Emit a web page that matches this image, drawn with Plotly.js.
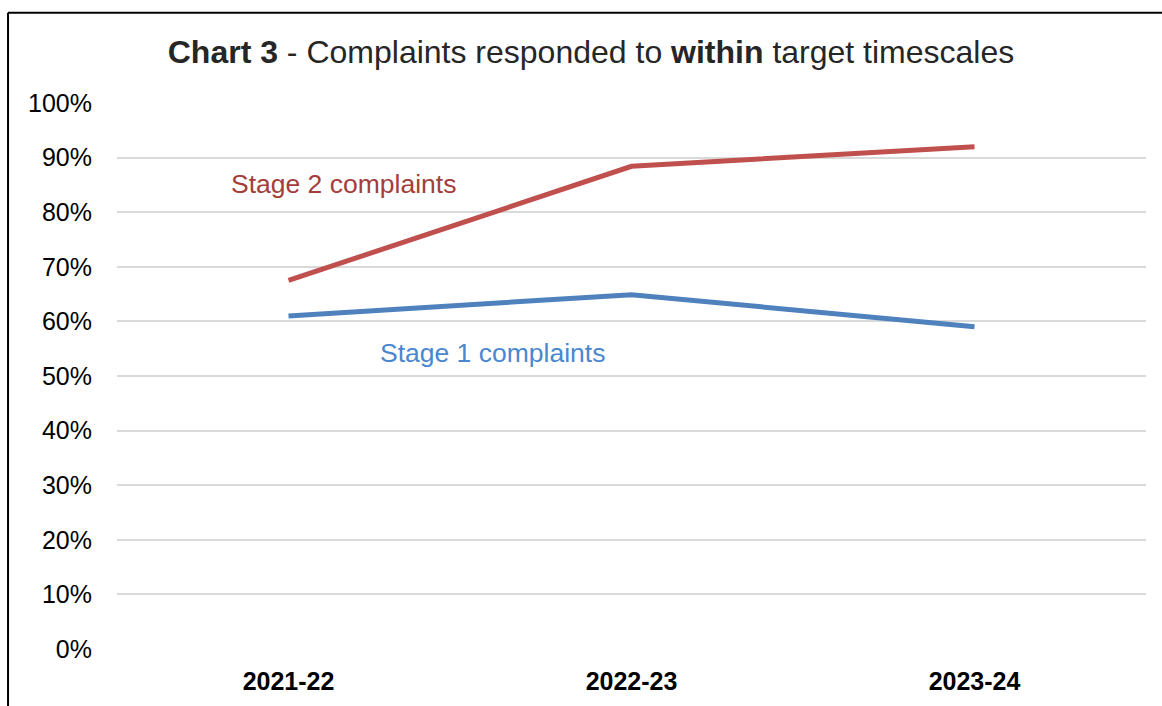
<!DOCTYPE html>
<html>
<head>
<meta charset="utf-8">
<script src="https://cdn.plot.ly/plotly-3.0.1.min.js"></script>
<style>
  html, body { margin: 0; padding: 0; background: #fff; }
  #chart { width: 1162px; height: 706px; }
</style>
</head>
<body>
<div id="chart"></div>
<script>
const years = ["2021-22", "2022-23", "2023-24"];
const stage1 = [61.0, 64.9, 59.0];
const stage2 = [67.5, 88.4, 92.0];
const yTicks = [0, 10, 20, 30, 40, 50, 60, 70, 80, 90, 100];
const yTickLabels = yTicks.map(v => v + "%");

const FONT = "Arial, 'Liberation Sans', sans-serif";

const traces = [
  { x: years, y: stage2, type: "scatter", mode: "lines", name: "Stage 2 complaints",
    line: { color: "#C0504D", width: 5 }, hoverinfo: "skip" },
  { x: years, y: stage1, type: "scatter", mode: "lines", name: "Stage 1 complaints",
    line: { color: "#4F81BD", width: 5 }, hoverinfo: "skip" }
];

const layout = {
  width: 1162, height: 706,
  margin: { l: 117, r: 16, t: 103, b: 57 },
  paper_bgcolor: "#fff", plot_bgcolor: "#fff",
  showlegend: false,
  font: { family: FONT, color: "#000" },
  title: {
    text: "<b>Chart 3</b> - Complaints responded to <b>within</b> target timescales",
    font: { family: FONT, size: 32, color: "#262626" },
    xref: "container", x: 0.5086, xanchor: "center",
    yref: "container", y: 0.926, yanchor: "middle"
  },
  xaxis: {
    type: "category", range: [-0.5, 2.5],
    showgrid: false, zeroline: false, showline: false,
    ticks: "outside", ticklen: 10, tickcolor: "rgba(0,0,0,0)",
    tickfont: { family: FONT, size: 25, color: "#000", weight: "bold" },
    tickvals: years, ticktext: years.map(t => "<b>" + t + "</b>")
  },
  yaxis: {
    range: [0, 100], tickvals: yTicks, ticktext: yTickLabels,
    showgrid: true, gridcolor: "#D9D9D9", gridwidth: 2,
    zeroline: false, showline: false,
    ticks: "outside", ticklen: 19, tickcolor: "rgba(0,0,0,0)",
    tickfont: { family: FONT, size: 25, color: "#000" }
  },
  annotations: [
    { text: "Stage 2 complaints", x: -0.174, y: 85.2, xref: "x", yref: "y",
      xanchor: "left", yanchor: "middle", showarrow: false,
      font: { family: FONT, size: 26.5, color: "#A33E3B" } },
    { text: "Stage 1 complaints", x: 0.261, y: 54.3, xref: "x", yref: "y",
      xanchor: "left", yanchor: "middle", showarrow: false,
      font: { family: FONT, size: 26.5, color: "#4A87D0" } }
  ],
  shapes: [
    { type: "line", xref: "paper", yref: "paper",
      x0: -0.1059, x1: -0.1059, y0: 1.1654, y1: -0.3,
      line: { color: "#000", width: 2 } },
    { type: "line", xref: "paper", yref: "paper",
      x0: -0.1059, x1: 1.2, y0: 1.1654, y1: 1.1654,
      line: { color: "#000", width: 2 } }
  ]
};

Plotly.newPlot("chart", traces, layout, { displayModeBar: false, staticPlot: true });
</script>
</body>
</html>
